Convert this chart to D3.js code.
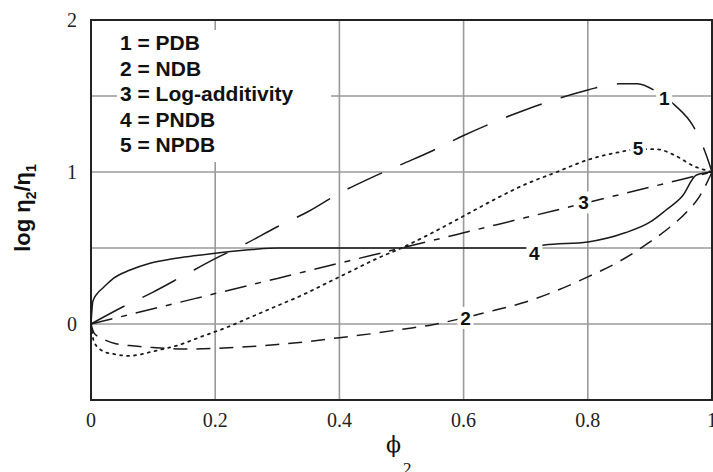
<!DOCTYPE html>
<html><head><meta charset="utf-8">
<script src="https://cdn.jsdelivr.net/npm/d3@7"></script>
<style>html,body{margin:0;padding:0;background:#fff;overflow:hidden}</style>
</head><body>
<svg id="c" width="713" height="472"></svg>
<script>
// ---- data ----
const phi = {
  pdb:  [0,0.05,0.1,0.15,0.2,0.25,0.3,0.35,0.4,0.45,0.5,0.55,0.6,0.65,0.7,0.75,0.8,0.85,0.88,0.91,0.94,0.97,0.99,1],
  ndb:  [0,0.005,0.02,0.04,0.07,0.1,0.15,0.2,0.25,0.3,0.35,0.4,0.45,0.5,0.55,0.6,0.65,0.7,0.75,0.8,0.85,0.9,0.93,0.96,0.98,1],
  logAdd: [0,0.1,0.2,0.3,0.4,0.5,0.6,0.7,0.8,0.9,1],
  pndb: [0,0.003,0.01,0.02,0.036,0.063,0.095,0.132,0.17,0.21,0.26,0.3,0.4,0.5,0.6,0.7,0.73,0.8,0.86,0.9,0.926,0.952,0.975,1],
  npdb: [0,0.005,0.02,0.04,0.06,0.08,0.1,0.14,0.18,0.22,0.26,0.3,0.34,0.38,0.42,0.46,0.5,0.54,0.6,0.65,0.7,0.75,0.8,0.85,0.88,0.91,0.94,0.97,1]
};
const pdbValues    = [0,0.11,0.21,0.32,0.43,0.53,0.64,0.74,0.86,0.96,1.05,1.14,1.24,1.33,1.41,1.48,1.54,1.58,1.58,1.53,1.44,1.3,1.12,1];
const ndbValues    = [0,-0.06,-0.1,-0.13,-0.145,-0.155,-0.165,-0.16,-0.15,-0.135,-0.115,-0.09,-0.065,-0.035,-0.005,0.04,0.09,0.145,0.22,0.31,0.41,0.54,0.63,0.74,0.84,1];
const logAddValues = [0,0.1,0.2,0.3,0.4,0.5,0.6,0.7,0.8,0.9,1];
const pndbValues   = [0,0.15,0.2,0.24,0.3,0.355,0.4,0.43,0.45,0.47,0.49,0.5,0.5,0.5,0.5,0.5,0.52,0.54,0.6,0.67,0.75,0.84,0.98,1];
const npdbValues   = [0,-0.12,-0.18,-0.2,-0.21,-0.2,-0.18,-0.14,-0.08,-0.02,0.05,0.12,0.19,0.27,0.35,0.43,0.5,0.58,0.71,0.82,0.92,1.0,1.08,1.13,1.15,1.15,1.11,1.04,1];

const seriesKeys   = ["pdb","ndb","logAdd","pndb","npdb"];
const seriesValues = [pdbValues, ndbValues, logAddValues, pndbValues, npdbValues];
const seriesNumber = ["1","2","3","4","5"];
const legendLines  = ["1 = PDB","2 = NDB","3 = Log-additivity","4 = PNDB","5 = NPDB"];
const labelX = [0.923,0.603,0.793,0.714,0.881];
const labelY = [1.49,0.04,0.80,0.47,1.16];

const xTicks = [0,0.2,0.4,0.6,0.8,1];
const xTickLabels = ["0","0.2","0.4","0.6","0.8","1"];
const yTicks = [0,1,2];
const yTickLabels = ["0","1","2"];
const xGrid = [0.2,0.4,0.6,0.8];
const yGrid = [0,0.5,1,1.5];

// ---- styles ----
const dashes = ["38,20","14,9","22,9,6,9",null,"2,5"];

const svg = d3.select("#c");
const L = 91, R = 712, T = 20, B = 400;
const x = d3.scaleLinear().domain([0,1]).range([L,R]);
const y = d3.scaleLinear().domain([-0.5,2]).range([B,T]);

// grid
svg.append("g").selectAll("line").data(xGrid).join("line")
  .attr("x1",d=>x(d)).attr("x2",d=>x(d)).attr("y1",T).attr("y2",B)
  .attr("stroke","#9a9a9a").attr("stroke-width",1.6);
svg.append("g").selectAll("line").data(yGrid).join("line")
  .attr("x1",L).attr("x2",R).attr("y1",d=>y(d)).attr("y2",d=>y(d))
  .attr("stroke","#9a9a9a").attr("stroke-width",1.6);

// legend box
svg.append("rect").attr("x",117).attr("y",30).attr("width",214).attr("height",132).attr("fill","#fff");
svg.append("g").selectAll("text").data(legendLines).join("text")
  .attr("x",120).attr("y",(d,i)=>50+i*25.5)
  .attr("font-family","'Liberation Sans',Arial,sans-serif").attr("font-weight","bold")
  .attr("font-size",21).attr("fill","#111").text(d=>d);

// frame
svg.append("rect").attr("x",L).attr("y",T).attr("width",R-L).attr("height",B-T)
  .attr("fill","none").attr("stroke","#222").attr("stroke-width",2);

// curves
const line = d3.line().x(d=>x(d[0])).y(d=>y(d[1])).curve(d3.curveMonotoneX);
seriesKeys.forEach((k,i)=>{
  const pts = phi[k].map((p,j)=>[p, seriesValues[i][j]]);
  const path = svg.append("path").attr("d",line(pts)).attr("fill","none")
    .attr("stroke","#1a1a1a").attr("stroke-width", i===4?1.8:1.5);
  if (dashes[i]) path.attr("stroke-dasharray",dashes[i]);
  if (i===4) path.attr("stroke-linecap","round");
});

// curve labels
const lg = svg.append("g");
seriesNumber.forEach((s,i)=>{
  const cx = x(labelX[i]), cy = y(labelY[i]);
  lg.append("rect").attr("x",cx-8).attr("y",cy-11).attr("width",16).attr("height",22).attr("fill","#fff");
  lg.append("text").attr("x",cx).attr("y",cy+7).attr("text-anchor","middle")
    .attr("font-family","'Liberation Sans',Arial,sans-serif").attr("font-weight","bold")
    .attr("font-size",19).attr("fill","#111").text(s);
});

// tick labels
svg.append("g").selectAll("text").data(xTicks).join("text")
  .attr("x",d=>x(d)).attr("y",427).attr("text-anchor","middle")
  .attr("font-family","'Liberation Serif','Times New Roman',serif").attr("font-size",20)
  .attr("fill","#222").text((d,i)=>xTickLabels[i]);
svg.append("g").selectAll("text").data(yTicks).join("text")
  .attr("x",72).attr("y",d=>y(d)+7).attr("text-anchor","middle")
  .attr("font-family","'Liberation Serif','Times New Roman',serif").attr("font-size",20)
  .attr("fill","#222").text((d,i)=>yTickLabels[i]);

// x axis title
const xt = svg.append("text").attr("x",386).attr("y",452)
  .attr("font-family","'DejaVu Serif','Liberation Serif',serif").attr("font-size",22).attr("fill","#111");
xt.append("tspan").text("ϕ");
xt.append("tspan").attr("font-family","'Liberation Serif',serif").attr("font-size",17).attr("dx",2).attr("dy",22).text("2");

// y axis title
const yt = svg.append("text").attr("transform","translate(30,208) rotate(-90)").attr("text-anchor","middle")
  .attr("font-family","'Liberation Sans',Arial,sans-serif").attr("font-weight","bold")
  .attr("font-size",22).attr("fill","#111");
yt.append("tspan").text("log η");
yt.append("tspan").attr("font-size",14).attr("dy",6).text("2");
yt.append("tspan").attr("dy",-6).text("/η");
yt.append("tspan").attr("font-size",14).attr("dy",6).text("1");
</script>
</body></html>
